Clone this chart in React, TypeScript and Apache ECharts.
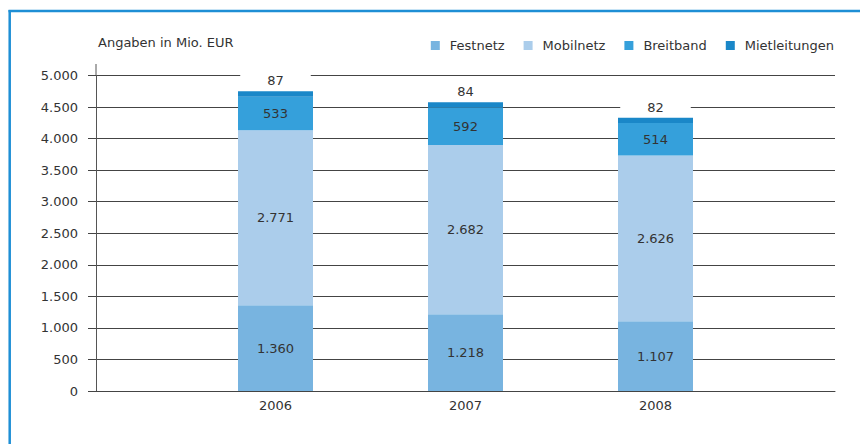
import React, { useEffect, useRef } from "react";
import * as echarts from "echarts";

const years = ["2006", "2007", "2008"];
const festnetz = [1360, 1218, 1107];
const mobilnetz = [2771, 2682, 2626];
const breitband = [533, 592, 514];
const mietleitungen = [87, 84, 82];
const seriesNames = ["Festnetz", "Mobilnetz", "Breitband", "Mietleitungen"];
const colors = ["#78b4e0", "#abcdeb", "#35a0db", "#1a87c8"];
const unitLabel = "Angaben in Mio. EUR";

const fmt = (v: number) => String(v).replace(/\B(?=(\d{3})+(?!\d))/g, ".");
const FONT = "DejaVu Sans, Liberation Sans, sans-serif";
const TXT = "#333";

export default function App() {
  const ref = useRef<HTMLDivElement>(null);
  useEffect(() => {
    document.body.style.margin = "0";
    const chart = echarts.init(ref.current!, null, { renderer: "svg" });
    const dataArr = [festnetz, mobilnetz, breitband, mietleitungen];
    const series: any[] = seriesNames.map((name, i) => ({
      name,
      type: "bar",
      stack: "total",
      xAxisIndex: 1,
      yAxisIndex: 1,
      barWidth: 75,
      data: dataArr[i],
      itemStyle: { color: colors[i] },
      label:
        i < 3
          ? {
              show: true,
              position: "inside",
              color: TXT,
              fontSize: 13,
              fontFamily: FONT,
              formatter: (p: any) => fmt(p.value),
            }
          : {
              show: true,
              position: "top",
              distance: 2,
              color: TXT,
              fontSize: 13,
              fontFamily: FONT,
              backgroundColor: "#fff",
              padding: [2, 27],
              formatter: (p: any) => fmt(p.value),
            },
    }));
    chart.setOption({
      animation: false,
      textStyle: { fontFamily: FONT },
      color: colors,
      legend: {
        data: seriesNames,
        right: 21,
        top: 34,
        icon: "rect",
        itemWidth: 9,
        itemHeight: 9,
        itemGap: 19,
        textStyle: { color: TXT, fontSize: 13, fontFamily: FONT, padding: [0, 0, 0, 5] },
        selectedMode: false,
      },
      grid: [
        { left: 96, right: 25, top: 75.5, bottom: 53 },
        { left: 180.5, right: 109.5, top: 75.5, bottom: 53 },
      ],
      xAxis: [
        {
          gridIndex: 0,
          type: "value",
          min: 0,
          max: 1,
          axisLine: { show: true, lineStyle: { color: "#444", width: 1 } },
          axisTick: { show: false },
          axisLabel: { show: false },
          splitLine: { show: false },
        },
        {
          gridIndex: 1,
          type: "category",
          data: years,
          axisLine: { show: false },
          axisTick: { show: false },
          axisLabel: { color: TXT, fontSize: 13, fontFamily: FONT, margin: 8 },
        },
      ],
      yAxis: [
        {
          gridIndex: 0,
          type: "value",
          min: 0,
          max: 5000,
          interval: 500,
          axisLine: { show: true, lineStyle: { color: "#555", width: 1 } },
          axisTick: { show: true, length: 8, lineStyle: { color: "#444" } },
          axisLabel: {
            color: TXT,
            fontSize: 13,
            fontFamily: FONT,
            margin: 18,
            formatter: (v: number) => fmt(v),
          },
          splitLine: { show: true, lineStyle: { color: "#444", width: 1 } },
        },
        {
          gridIndex: 1,
          type: "value",
          min: 0,
          max: 5000,
          show: false,
          splitLine: { show: false },
        },
      ],
      graphic: [
        {
          type: "line",
          shape: { x1: 96, y1: 64, x2: 96, y2: 76 },
          style: { stroke: "#555", lineWidth: 1 },
        },
        {
          type: "text",
          left: 98,
          top: 36,
          style: { text: unitLabel, fill: TXT, fontSize: 13, fontFamily: FONT },
        },
        {
          type: "line",
          shape: { x1: 8.5, y1: 11, x2: 860, y2: 11 },
          style: { stroke: "#1e8fd5", lineWidth: 2.5 },
        },
        {
          type: "line",
          shape: { x1: 9.7, y1: 10, x2: 9.7, y2: 444 },
          style: { stroke: "#1e8fd5", lineWidth: 2.5 },
        },
      ],
      series,
    });
    return () => chart.dispose();
  }, []);
  return <div ref={ref} style={{ width: 860, height: 444 }} />;
}
